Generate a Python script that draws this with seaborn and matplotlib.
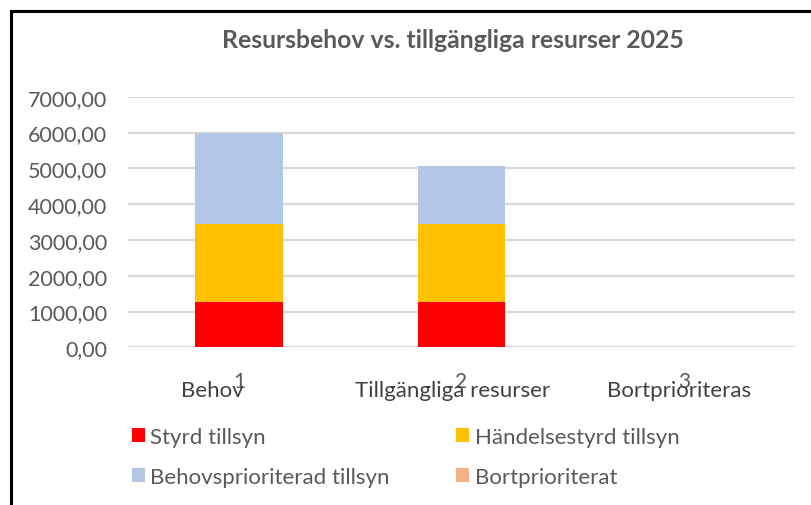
import numpy as np
import matplotlib
matplotlib.use('Agg')
import matplotlib.pyplot as plt
import seaborn as sns
from matplotlib.patches import Patch, Rectangle

# data
categories = ['1', '2', '3']
category_names = ['Behov', 'Tillgängliga resurser', 'Bortprioriteras']
styrd = [1260, 1260, 0]
handelsestyrd = [2176, 2176, 0]
behovsprio = [2564, 1620, 0]
bortprio = [0, 0, 0]
series_names = ['Styrd tillsyn', 'Händelsestyrd tillsyn', 'Behovsprioriterad tillsyn', 'Bortprioriterat']
series_colors = ['#FF0000', '#FFC000', '#B4C7E7', '#F4B183']
yticks = [0, 1000, 2000, 3000, 4000, 5000, 6000, 7000]
title = 'Resursbehov vs. tillgängliga resurser 2025'

sns.set_theme(style='white')
plt.rcParams['font.family'] = ['Lato', 'DejaVu Sans']

fig = plt.figure(figsize=(8.12, 5.06), dpi=100)
ax = fig.add_axes([128/812, 1-348.3/506, 667/812, 250.6/506])

series = [styrd, handelsestyrd, behovsprio, bortprio]
bottom = np.zeros(len(categories))
for vals, col in zip(series, series_colors):
    sns.barplot(x=categories, y=vals, bottom=bottom, color=col, width=0.395,
                saturation=1, ax=ax, zorder=3, linewidth=0)
    bottom = bottom + np.array(vals)

ax.set_xlim(-0.5, 2.5)
ax.set_ylim(0, 7000)
ax.set_yticks(yticks)
ax.set_yticklabels([f'{v:.2f}'.replace('.', ',') for v in yticks], color='#595959', fontsize=15.5)
ax.yaxis.grid(True, color='#d9d9d9', linewidth=1.6, zorder=0)
ax.set_axisbelow(True)
ax.tick_params(axis='y', length=0, pad=15)
ax.tick_params(axis='x', length=0, pad=17)
ax.set_xticklabels(categories, color='#595959', fontsize=15)
for s in ax.spines.values():
    s.set_visible(False)
ax.set_xlabel('')
ax.set_ylabel('')

# category names (overlapping the numbers like in the reference)
offsets = [-0.12, -0.04, -0.02]
for i, (name, off) in enumerate(zip(category_names, offsets)):
    ax.text(i + off, -0.17, name, transform=ax.get_xaxis_transform(), ha='center', va='center',
            fontsize=16, color='#404040')

fig.text(453/812, 1-40/506, title, ha='center', va='center', fontsize=17.8,
         fontweight='bold', color='#595959')

# legend is filled column by column, so reorder to get row-wise order
handles = [Patch(facecolor=c, edgecolor='none', label=n) for n, c in zip(series_names, series_colors)]
handles = [handles[0], handles[2], handles[1], handles[3]]
fig.legend(handles=handles, ncol=2, loc='upper left', bbox_to_anchor=(116/812, 1-412/506),
           frameon=False, fontsize=16, labelcolor='#595959', handlelength=0.6, handleheight=0.6,
           handletextpad=0.25, columnspacing=2.96, labelspacing=0.93, borderpad=0.2)

# frame of the embedded chart
fig.add_artist(Rectangle((11/812, -0.1), 1.0, 1 - 12/506 + 0.1, transform=fig.transFigure,
                         fill=False, edgecolor='black', linewidth=2.2))

fig.savefig('out.png', dpi=100)
